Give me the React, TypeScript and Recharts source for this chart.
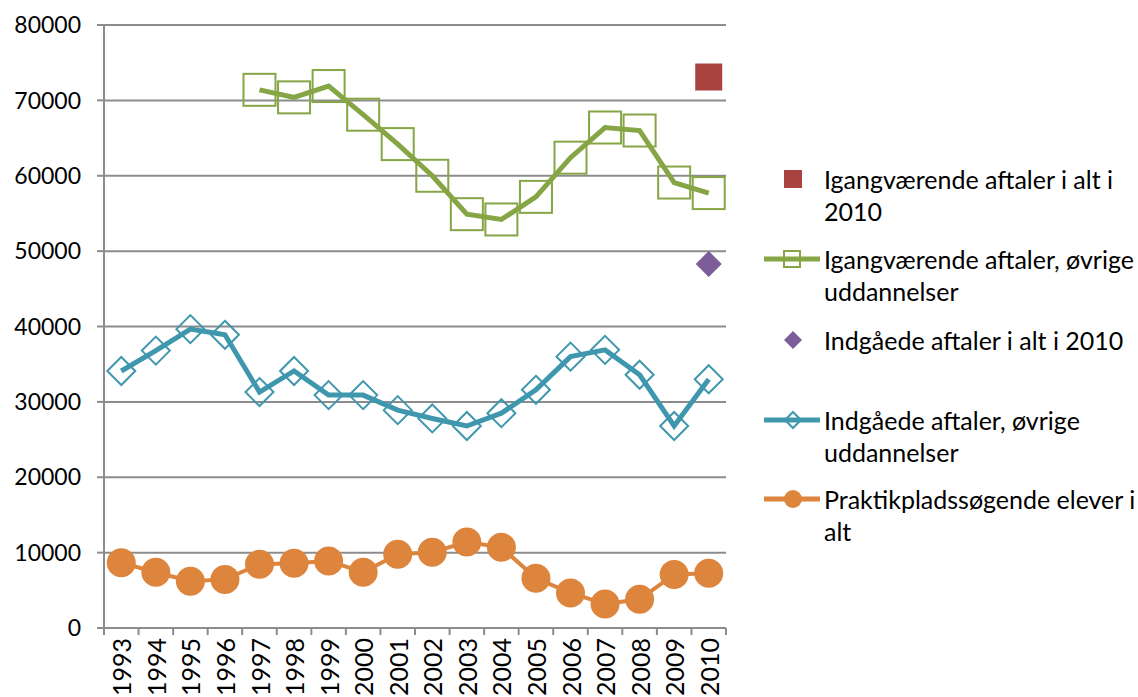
import { LineChart, Line, XAxis, YAxis, CartesianGrid } from "recharts";

const years = [
  "1993", "1994", "1995", "1996", "1997", "1998", "1999", "2000", "2001",
  "2002", "2003", "2004", "2005", "2006", "2007", "2008", "2009", "2010",
];

// Igangværende aftaler, øvrige uddannelser (from 1997)
const igangvaerende = [
  null, null, null, null, 71400, 70400, 71900, 68100, 64200,
  60000, 54900, 54200, 57200, 62400, 66400, 66000, 59100, 57700,
];

// Indgåede aftaler, øvrige uddannelser
const indgaaede = [
  34100, 36800, 39650, 38900, 31300, 34100, 30900, 30900, 28900,
  27800, 26800, 28500, 31600, 36000, 36900, 33600, 26800, 33000,
];

// Praktikpladssøgende elever i alt
const praktik = [
  8660, 7400, 6200, 6450, 8450, 8600, 8900, 7400, 9800,
  10050, 11400, 10700, 6600, 4650, 3200, 3800, 7100, 7250,
];

// single points for 2010
const igangAlt2010 = 73100;
const indgaaedeAlt2010 = 48300;

const yTicks = [0, 10000, 20000, 30000, 40000, 50000, 60000, 70000, 80000];

const GREEN = "#86a545";
const TEAL = "#3f97ae";
const ORANGE = "#dd843d";
const RED = "#a94340";
const PURPLE = "#7b5d9a";
const GRID = "#8c8c8c";
const FONT = "Lato, 'Open Sans', sans-serif";

const data = years.map((y, i) => ({
  i,
  year: y,
  green: igangvaerende[i],
  teal: indgaaede[i],
  orange: praktik[i],
  red: i === years.length - 1 ? igangAlt2010 : null,
  purple: i === years.length - 1 ? indgaaedeAlt2010 : null,
}));

// ticks at category centers (labels) and boundaries (tick marks)
const xTicks: number[] = [];
for (let k = 0; k <= years.length; k += 1) {
  xTicks.push(k - 0.5);
  if (k < years.length) xTicks.push(k);
}

function XTick(props: any) {
  const { x, y, payload } = props;
  const v = payload.value as number;
  if (!Number.isInteger(v)) {
    return <line x1={x} y1={y} x2={x} y2={y + 7} stroke={GRID} strokeWidth={2} />;
  }
  return (
    <text
      x={x}
      y={y + 10}
      transform={`rotate(-90 ${x} ${y + 10})`}
      textAnchor="end"
      dominantBaseline="central"
      fontSize={25}
      fontFamily={FONT}
      fill="#000"
    >
      {years[v]}
    </text>
  );
}

const empty = (key: string) => <g key={key} />;

function squareDot(props: any) {
  const { cx, cy, value, index } = props;
  if (value == null || cy == null) return empty(`sq-${index}`);
  return (
    <rect key={`sq-${index}`} x={cx - 16} y={cy - 16} width={32} height={32}
      fill="none" stroke={GREEN} strokeWidth={2} />
  );
}

function diamondDot(props: any) {
  const { cx, cy, value, index } = props;
  if (value == null || cy == null) return empty(`di-${index}`);
  const h = 14;
  return (
    <polygon key={`di-${index}`}
      points={`${cx},${cy - h} ${cx + h},${cy} ${cx},${cy + h} ${cx - h},${cy}`}
      fill="none" stroke={TEAL} strokeWidth={2} />
  );
}

function circleDot(props: any) {
  const { cx, cy, value, index } = props;
  if (value == null || cy == null) return empty(`ci-${index}`);
  return <circle key={`ci-${index}`} cx={cx} cy={cy} r={14.5} fill={ORANGE} />;
}

function redDot(props: any) {
  const { cx, cy, value, index } = props;
  if (value == null || cy == null) return empty(`rd-${index}`);
  return <rect key={`rd-${index}`} x={cx - 13.5} y={cy - 13.5} width={27} height={27} fill={RED} />;
}

function purpleDot(props: any) {
  const { cx, cy, value, index } = props;
  if (value == null || cy == null) return empty(`pd-${index}`);
  const h = 13;
  return (
    <polygon key={`pd-${index}`}
      points={`${cx},${cy - h} ${cx + h},${cy} ${cx},${cy + h} ${cx - h},${cy}`}
      fill={PURPLE} />
  );
}

type LegendItem = { top: number; lines: string[]; icon: React.ReactNode };

const legendItems: LegendItem[] = [
  {
    top: 163,
    lines: ["Igangværende aftaler i alt i", "2010"],
    icon: <rect x={22} y={7} width={18} height={18} fill={RED} />,
  },
  {
    top: 243,
    lines: ["Igangværende aftaler, øvrige", "uddannelser"],
    icon: (
      <g>
        <line x1={2} y1={16} x2={58} y2={16} stroke={GREEN} strokeWidth={5} />
        <rect x={22} y={8} width={16} height={16} fill="none" stroke={GREEN} strokeWidth={2} />
      </g>
    ),
  },
  {
    top: 324,
    lines: ["Indgåede aftaler i alt i 2010"],
    icon: <polygon points="31,7 40,16 31,25 22,16" fill={PURPLE} />,
  },
  {
    top: 404,
    lines: ["Indgåede aftaler, øvrige", "uddannelser"],
    icon: (
      <g>
        <line x1={2} y1={16} x2={58} y2={16} stroke={TEAL} strokeWidth={5} />
        <polygon points="31,8 39,16 31,24 23,16" fill="none" stroke={TEAL} strokeWidth={2} />
      </g>
    ),
  },
  {
    top: 483,
    lines: ["Praktikpladssøgende elever i", "alt"],
    icon: (
      <g>
        <line x1={2} y1={16} x2={58} y2={16} stroke={ORANGE} strokeWidth={5} />
        <circle cx={31} cy={16} r={9} fill={ORANGE} />
      </g>
    ),
  },
];

function ChartLegend() {
  return (
    <>
      {legendItems.map((it) => (
        <div key={it.top} style={{ position: "absolute", left: 762, top: it.top, display: "flex" }}>
          <svg width={62} height={32} style={{ flex: "none" }}>{it.icon}</svg>
          <div style={{ fontFamily: FONT, fontSize: 25, lineHeight: "32px", color: "#000", whiteSpace: "nowrap" }}>
            {it.lines.map((l) => (
              <div key={l}>{l}</div>
            ))}
          </div>
        </div>
      ))}
    </>
  );
}

export default function App() {
  return (
    <div style={{ position: "absolute", left: 0, top: 0, width: 1138, height: 697, background: "#fff", overflow: "hidden" }}>
      <LineChart width={1138} height={697} data={data} margin={{ top: 25, right: 412, left: 0, bottom: 0 }}>
        <CartesianGrid horizontal vertical={false} stroke={GRID} strokeWidth={2} />
        <XAxis
          dataKey="i"
          type="number"
          domain={[-0.5, years.length - 0.5]}
          ticks={xTicks}
          interval={0}
          height={69}
          tickSize={0}
          tickMargin={0}
          tickLine={false}
          axisLine={{ stroke: GRID, strokeWidth: 2 }}
          tick={<XTick />}
        />
        <YAxis
          width={104}
          domain={[0, 80000]}
          ticks={yTicks}
          interval={0}
          tickSize={7}
          tickMargin={16}
          axisLine={{ stroke: GRID, strokeWidth: 2 }}
          tickLine={{ stroke: GRID, strokeWidth: 2 }}
          tick={{ fill: "#000", fontSize: 23, fontFamily: FONT }}
        />
        <Line dataKey="green" stroke={GREEN} strokeWidth={5} dot={squareDot} isAnimationActive={false} connectNulls={false} />
        <Line dataKey="teal" stroke={TEAL} strokeWidth={5} dot={diamondDot} isAnimationActive={false} />
        <Line dataKey="orange" stroke={ORANGE} strokeWidth={4} dot={circleDot} isAnimationActive={false} />
        <Line dataKey="red" stroke="none" dot={redDot} isAnimationActive={false} />
        <Line dataKey="purple" stroke="none" dot={purpleDot} isAnimationActive={false} />
      </LineChart>
      <ChartLegend />
    </div>
  );
}
